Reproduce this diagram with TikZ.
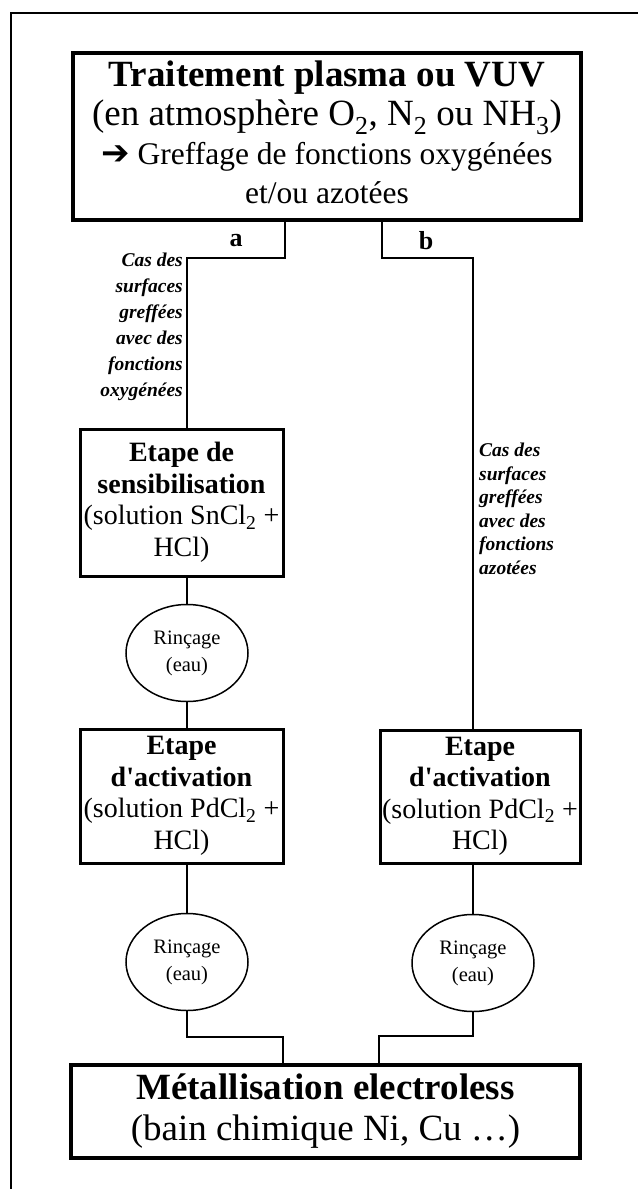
\documentclass[tikz,border=0pt]{standalone}
\usepackage{fontspec}
\setmainfont{Liberation Serif}
\newfontfamily\symfont{DejaVu Sans}
\usetikzlibrary{shapes.geometric}
\begin{document}
\begin{tikzpicture}[x=1pt,y=-1pt,
  bigbox/.style={draw, line width=3.4pt, rectangle, inner sep=0pt, align=center},
  stepbox/.style={draw, line width=3pt, rectangle, inner sep=0pt, align=center,
    minimum width=203pt, font=\fontsize{28}{31.5}\selectfont},
  rinse/.style={draw, line width=1.5pt, ellipse, inner sep=0pt, minimum width=122pt,
    minimum height=97pt, align=center, font=\fontsize{20.5}{27}\selectfont},
  conn/.style={line width=2.4pt},
  branchlbl/.style={inner sep=0pt, font=\fontsize{26}{28}\selectfont\bfseries},
  caselbl/.style={inner sep=0pt, font=\fontsize{19.5}{26}\selectfont\bfseries\itshape}
]
\useasboundingbox (0,0) rectangle (638,1189);
\fill[white] (0,0) rectangle (638,1189);
\draw[line width=1.6pt] (11,1189) -- (11,13) -- (638,13);

\node[bigbox, minimum width=508pt, minimum height=167pt,
  font=\fontsize{31.5}{39}\selectfont] (T) at (327,136.5)
  {{\fontsize{37}{39}\selectfont\bfseries Traitement plasma ou VUV}\\
   {\fontsize{37}{39}\selectfont (en atmosphère O\textsubscript{2}, N\textsubscript{2} ou NH\textsubscript{3})}\\
   {\symfont\fontsize{34}{39}\selectfont\char"2794} Greffage de fonctions oxygénées\\
   et/ou azotées\rule[-8pt]{0pt}{8pt}};

\node[stepbox, minimum height=147pt] (S) at (181.5,502.5)
  {\textbf{Etape de}\\ \textbf{sensibilisation}\\ (solution SnCl\textsubscript{2} +\\ HCl)};
\node[rinse] (E1) at (187,653) {Rinçage\\(eau)};
\node[stepbox, minimum height=134pt] (A1) at (181.5,796)
  {\textbf{Etape}\\ \textbf{d\textquotesingle activation}\\ (solution PdCl\textsubscript{2} +\\ HCl)};
\node[rinse] (E2) at (187,962) {Rinçage\\(eau)};
\node[stepbox, minimum width=200pt, minimum height=133pt] (A2) at (480,796.5)
  {\textbf{Etape}\\ \textbf{d\textquotesingle activation}\\ (solution PdCl\textsubscript{2} +\\ HCl)};
\node[rinse] (E3) at (473,963) {Rinçage\\(eau)};

\node[bigbox, minimum width=509pt, minimum height=93pt,
  font=\fontsize{37}{41}\selectfont] (M) at (325.5,1111.5)
  {\textbf{Métallisation electroless}\\ (bain chimique Ni, Cu …)};

\node[branchlbl] (la) at (236,241) {a};
\node[branchlbl] (lb) at (426,241) {b};
\node[caselbl, align=right, anchor=north east] (ca) at (183,253)
  {Cas des\\ surfaces\\ greffées\\ avec des\\ fonctions\\ oxygénées};
\node[caselbl, align=left, anchor=north west, font=\fontsize{19.5}{23.5}\selectfont\bfseries\itshape] (cb) at (479,443)
  {Cas des\\ surfaces\\ greffées\\ avec des\\ fonctions\\ azotées};

\draw[conn] ([xshift=-42pt]T.south) -- ++(0,36) -| ([xshift=5.5pt]S.north);
\draw[conn] ([xshift=55pt]T.south) -- ++(0,36) -| ([xshift=-7pt]A2.north);
\draw[conn] ([xshift=5.5pt]S.south) -- (E1.north);
\draw[conn] (E1.south) -- ([xshift=5.5pt]A1.north);
\draw[conn] ([xshift=5.5pt]A1.south) -- (E2.north);
\draw[conn] ([xshift=-7pt]A2.south) -- (E3.north);
\draw[conn] (E2.south) -- ++(0,26) -| ([xshift=-42.5pt]M.north);
\draw[conn] (E3.south) -- ++(0,24) -| ([xshift=53.5pt]M.north);
\end{tikzpicture}
\end{document}
